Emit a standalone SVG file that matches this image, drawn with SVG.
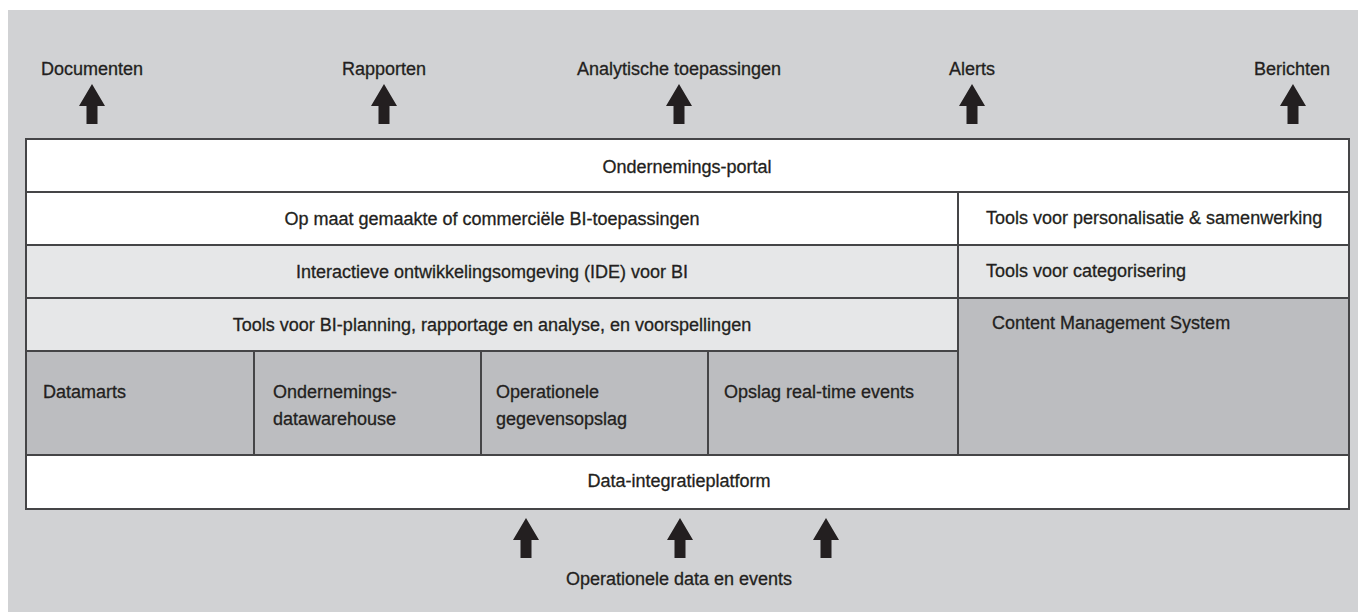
<svg xmlns="http://www.w3.org/2000/svg" width="1358" height="612" viewBox="0 0 1358 612">
<style>
text{font-family:"Liberation Sans",Arial,sans-serif;font-size:18px;fill:#231f20;stroke:#231f20;stroke-width:0.3}
.c{text-anchor:middle}
.cell{stroke:#454547;stroke-width:2}
.w{fill:#ffffff}
.l{fill:#e6e7e8}
.d{fill:#bcbdc0}
.arr{fill:#231f20}
</style>
<defs>
<path id="arrow" d="M0,0 L13,22 L5.5,22 L5.5,40 L-5.5,40 L-5.5,22 L-13,22 Z"/>
</defs>
<rect x="0" y="0" width="1358" height="612" fill="#ffffff"/>
<rect x="8" y="10" width="1350" height="602" fill="#d1d2d4"/>

<g id="portal"><rect class="cell w" x="26" y="139" width="1323" height="53"/><text class="c" x="687" y="173">Ondernemings-portal</text></g>
<g id="bi-toepassingen"><rect class="cell w" x="26" y="192" width="932" height="53"/><text class="c" x="492" y="225">Op maat gemaakte of commerciële BI-toepassingen</text></g>
<g id="personalisatie"><rect class="cell w" x="958" y="192" width="391" height="53"/><text x="986" y="224">Tools voor personalisatie &amp; samenwerking</text></g>
<g id="ide"><rect class="cell l" x="26" y="245" width="932" height="53"/><text class="c" x="492" y="278">Interactieve ontwikkelingsomgeving (IDE) voor BI</text></g>
<g id="categorisering"><rect class="cell l" x="958" y="245" width="391" height="53"/><text x="986" y="277">Tools voor categorisering</text></g>
<g id="planning"><rect class="cell l" x="26" y="298" width="932" height="53"/><text class="c" x="492" y="331">Tools voor BI-planning, rapportage en analyse, en voorspellingen</text></g>
<g id="cms"><rect class="cell d" x="958" y="298" width="391" height="157"/><text x="992" y="329">Content Management System</text></g>
<g id="datamarts"><rect class="cell d" x="26" y="351" width="228" height="104"/><text x="43" y="398">Datamarts</text></g>
<g id="datawarehouse"><rect class="cell d" x="254" y="351" width="227" height="104"/><text x="273" y="398">Ondernemings-</text><text x="273" y="425">datawarehouse</text></g>
<g id="gegevensopslag"><rect class="cell d" x="481" y="351" width="227" height="104"/><text x="496" y="398">Operationele</text><text x="496" y="425">gegevensopslag</text></g>
<g id="realtime"><rect class="cell d" x="708" y="351" width="250" height="104"/><text x="724" y="398">Opslag real-time events</text></g>
<g id="integratie"><rect class="cell w" x="26" y="455" width="1323" height="54"/><text class="c" x="679" y="487">Data-integratieplatform</text></g>

<g id="labels">
<text class="c" x="92" y="75">Documenten</text>
<text class="c" x="384" y="75">Rapporten</text>
<text class="c" x="679" y="75">Analytische toepassingen</text>
<text class="c" x="972" y="75">Alerts</text>
<text class="c" x="1292" y="75">Berichten</text>
<text class="c" x="679" y="585">Operationele data en events</text>
</g>

<g id="connectors" class="arr">
<use href="#arrow" x="92" y="84"/>
<use href="#arrow" x="384" y="84"/>
<use href="#arrow" x="679" y="84"/>
<use href="#arrow" x="972" y="84"/>
<use href="#arrow" x="1293" y="84"/>
<use href="#arrow" x="526" y="518"/>
<use href="#arrow" x="680" y="518"/>
<use href="#arrow" x="826" y="518"/>
</g>
</svg>
